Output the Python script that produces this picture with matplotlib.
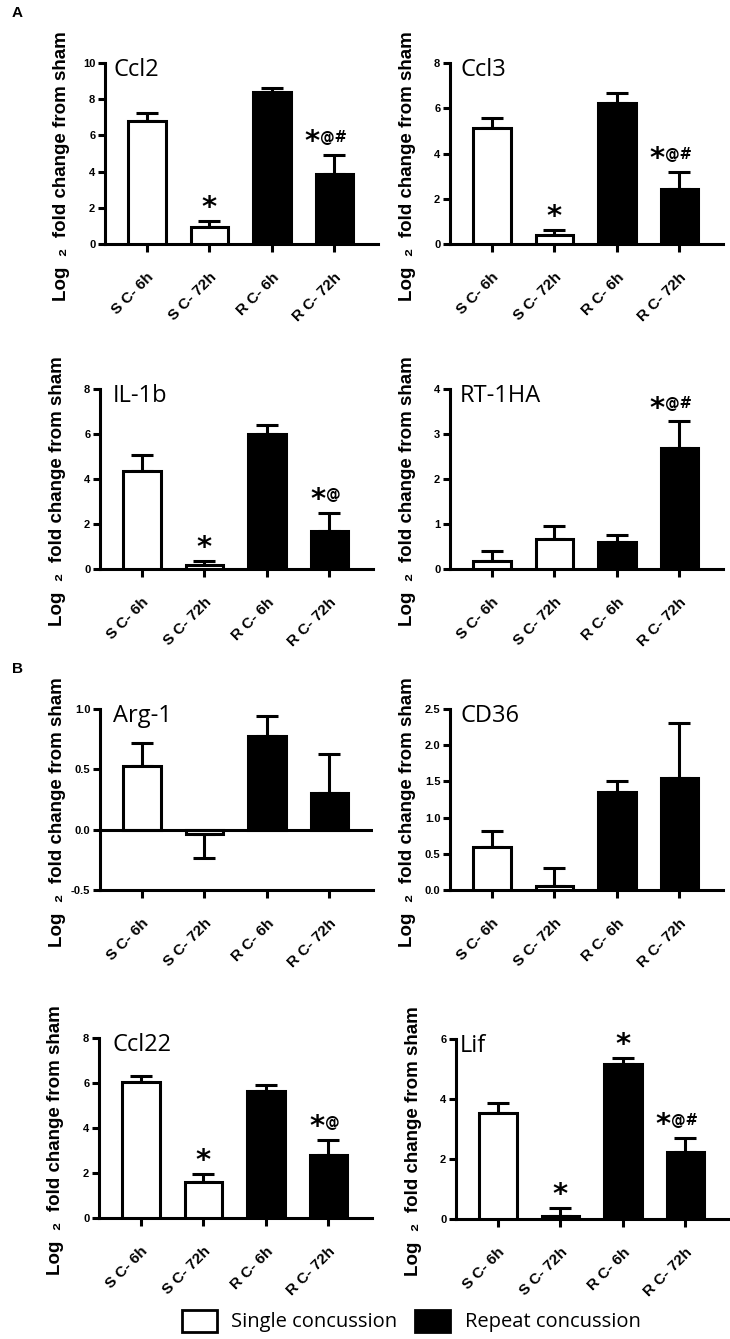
import matplotlib
matplotlib.use("Agg")
import matplotlib.pyplot as plt
from matplotlib.patches import Patch
from matplotlib.ticker import FormatStrFormatter

groups = ["S C- 6h", "S C- 72h", "R C- 6h", "R C- 72h"]
fills = ["white", "white", "black", "black"]

ccl2_mean = [6.77, 0.94, 8.39, 3.88]
ccl2_err = [0.46, 0.32, 0.22, 1.04]
ccl2_sig = ["", "*", "", "*@#"]

ccl3_mean = [5.14, 0.41, 6.24, 2.44]
ccl3_err = [0.43, 0.22, 0.43, 0.73]
ccl3_sig = ["", "*", "", "*@#"]

il1b_mean = [4.36, 0.18, 5.98, 1.69]
il1b_err = [0.71, 0.19, 0.40, 0.82]
il1b_sig = ["", "*", "", "*@"]

rt1ha_mean = [0.18, 0.67, 0.60, 2.68]
rt1ha_err = [0.23, 0.29, 0.16, 0.60]
rt1ha_sig = ["", "", "", "*@#"]

arg1_mean = [0.53, -0.036, 0.78, 0.30]
arg1_err = [0.19, 0.20, 0.16, 0.33]
arg1_sig = ["", "", "", ""]

cd36_mean = [0.60, 0.05, 1.35, 1.55]
cd36_err = [0.22, 0.25, 0.16, 0.76]
cd36_sig = ["", "", "", ""]

ccl22_mean = [6.03, 1.61, 5.66, 2.81]
ccl22_err = [0.27, 0.35, 0.24, 0.67]
ccl22_sig = ["", "*", "", "*@"]

lif_mean = [3.54, 0.11, 5.18, 2.22]
lif_err = [0.33, 0.27, 0.20, 0.48]
lif_sig = ["", "*", "*", "*@#"]

W, H = 730, 1339
fig = plt.figure(figsize=(W / 100, H / 100), dpi=100)

# name, means, errors, marks, ylim, yticks, fmt, (left px, top px, bottom px), title offset
panels = [
    ("Ccl2", ccl2_mean, ccl2_err, ccl2_sig, (0, 10), [0, 2, 4, 6, 8, 10], "%d", (105, 63, 244), 0.03),
    ("Ccl3", ccl3_mean, ccl3_err, ccl3_sig, (0, 8), [0, 2, 4, 6, 8], "%d", (450, 63, 244), 0.037),
    ("IL-1b", il1b_mean, il1b_err, il1b_sig, (0, 8), [0, 2, 4, 6, 8], "%d", (100, 389, 569), 0.047),
    ("RT-1HA", rt1ha_mean, rt1ha_err, rt1ha_sig, (0, 4), [0, 1, 2, 3, 4], "%d", (450, 389, 569), 0.037),
    ("Arg-1", arg1_mean, arg1_err, arg1_sig, (-0.5, 1.0), [-0.5, 0.0, 0.5, 1.0], "%.1f", (100, 709, 890), 0.047),
    ("CD36", cd36_mean, cd36_err, cd36_sig, (0, 2.5), [0, 0.5, 1.0, 1.5, 2.0, 2.5], "%.1f", (450, 709, 890), 0.037),
    ("Ccl22", ccl22_mean, ccl22_err, ccl22_sig, (0, 8), [0, 2, 4, 6, 8], "%d", (99, 1038, 1218), 0.05),
    ("Lif", lif_mean, lif_err, lif_sig, (0, 6), [0, 2, 4, 6], "%d", (456, 1039, 1219), 0.015),
]

LW = 2.2
x = list(range(len(groups)))
lab_font = ["Liberation Sans", "DejaVu Sans"]

for name, mean, err, sig, ylim, yticks, fmt, (lpx, tpx, bpx), toff in panels:
    wpx = 273
    ax = fig.add_axes([lpx / W, 1 - bpx / H, wpx / W, (bpx - tpx) / H])
    ax.bar(x, mean, width=0.6, color=fills, edgecolor="black", linewidth=LW, zorder=3)
    lower = [e if m < 0 else 0 for m, e in zip(mean, err)]
    upper = [0 if m < 0 else e for m, e in zip(mean, err)]
    ax.errorbar(x, mean, yerr=[lower, upper], fmt="none", ecolor="black",
                elinewidth=LW, capsize=8, capthick=LW, zorder=2)
    if ylim[0] < 0:
        ax.axhline(0, color="black", lw=LW, zorder=4)
    ax.set_xlim(-0.67, 3.7)
    ax.set_ylim(*ylim)
    ax.set_yticks(yticks)
    ax.yaxis.set_major_formatter(FormatStrFormatter(fmt))
    for s in ["top", "right"]:
        ax.spines[s].set_visible(False)
    for s in ["left", "bottom"]:
        ax.spines[s].set_linewidth(LW)
    ax.tick_params(axis="y", direction="out", length=5, width=LW, pad=2, labelsize=8)
    ax.tick_params(axis="x", direction="out", length=6, width=LW, pad=13)
    for t in ax.get_yticklabels():
        t.set_fontweight("bold")
        t.set_family(lab_font)
    ax.set_xticks(x)
    ax.set_xticklabels(groups, rotation=45, ha="right", rotation_mode="anchor",
                       fontsize=11, fontweight="bold", family=lab_font)
    ax.text(-43 / wpx, 0.43, "Log  \u2082  fold change from sham", transform=ax.transAxes,
            rotation=90, ha="center", va="center", fontsize=13.5, fontweight="bold",
            family=lab_font)
    ax.text(toff, 1.03, name, transform=ax.transAxes, ha="left", va="top",
            fontsize=17, family="Open Sans")

    for xi, m, e, s in zip(x, mean, err, sig):
        if not s:
            continue
        top = m + e
        rest = s[1:]
        dx = {0: 0, 1: -8, 2: -16}[len(rest)]
        ax.annotate("*", xy=(xi, top), xytext=(dx, 3.5), textcoords="offset points",
                    ha="center", va="baseline", fontsize=21, fontweight="bold",
                    family="DejaVu Sans", zorder=5)
        if rest:
            ax.annotate(rest, xy=(xi, top), xytext=(dx + 5.5, 9.5),
                        textcoords="offset points", ha="left", va="baseline",
                        fontsize=10.5, fontweight="bold", family="DejaVu Sans", zorder=5)

fig.text(12 / W, 1 - 13 / H, "A", fontsize=11, fontweight="bold", va="center",
         family=lab_font)
fig.text(12 / W, 1 - 669 / H, "B", fontsize=11, fontweight="bold", va="center",
         family=lab_font)

handles = [
    Patch(facecolor="white", edgecolor="black", linewidth=2, label="Single concussion"),
    Patch(facecolor="black", edgecolor="black", linewidth=2, label="Repeat concussion"),
]
fig.legend(handles=handles, loc="center", bbox_to_anchor=(411 / W, 1 - 1321 / H), ncol=2,
           frameon=False, handlelength=1.75, handleheight=1.3, handletextpad=0.7,
           columnspacing=0.9, prop={"family": "Open Sans", "size": 14.5})

fig.savefig("out.png", dpi=100)
